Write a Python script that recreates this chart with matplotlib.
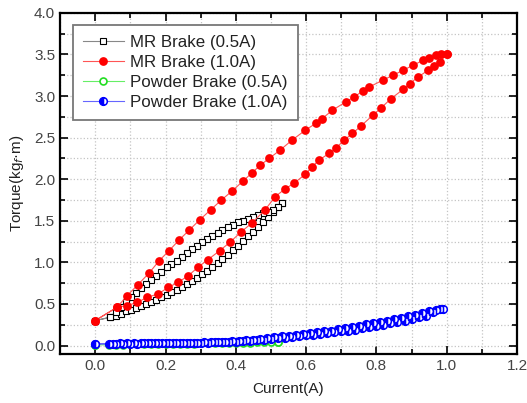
import matplotlib
matplotlib.use("Agg")
import matplotlib.pyplot as plt
from matplotlib.ticker import MultipleLocator

plt.rcParams["font.family"] = ["Liberation Sans", "DejaVu Sans"]

# MR brake, 0.5 A (increasing then decreasing current)
mr05_up_i = [0.0, 0.043, 0.058, 0.072, 0.087, 0.101, 0.116, 0.130, 0.145, 0.159, 0.174,
             0.188, 0.203, 0.217, 0.232, 0.246, 0.261, 0.275, 0.290, 0.304, 0.319, 0.333,
             0.348, 0.362, 0.377, 0.391, 0.406, 0.420, 0.435, 0.449, 0.464, 0.478, 0.493,
             0.507, 0.520, 0.531]
mr05_up_t = [0.30, 0.34, 0.36, 0.38, 0.41, 0.43, 0.45, 0.47, 0.50, 0.52, 0.55,
             0.58, 0.61, 0.64, 0.67, 0.70, 0.74, 0.77, 0.81, 0.86, 0.90, 0.95,
             0.99, 1.04, 1.09, 1.15, 1.20, 1.26, 1.32, 1.37, 1.43, 1.49, 1.55,
             1.61, 1.66, 1.71]
mr05_dn_i = [0.531, 0.520, 0.507, 0.493, 0.478, 0.464, 0.449, 0.435, 0.420, 0.406, 0.391,
             0.377, 0.362, 0.348, 0.333, 0.319, 0.304, 0.290, 0.275, 0.261, 0.246, 0.232,
             0.217, 0.203, 0.188, 0.174, 0.159, 0.145, 0.130, 0.116, 0.101, 0.087, 0.072,
             0.058, 0.043, 0.0]
mr05_dn_t = [1.71, 1.66, 1.63, 1.61, 1.59, 1.57, 1.55, 1.52, 1.50, 1.48, 1.45,
             1.42, 1.39, 1.35, 1.32, 1.28, 1.24, 1.20, 1.16, 1.11, 1.06, 1.02,
             0.98, 0.94, 0.89, 0.84, 0.79, 0.74, 0.69, 0.63, 0.58, 0.52, 0.46,
             0.40, 0.34, 0.30]

# MR brake, 1.0 A
mr10_up_i = [0.0, 0.062, 0.091, 0.12, 0.148, 0.179, 0.208, 0.236, 0.265, 0.292, 0.32,
             0.354, 0.383, 0.416, 0.445, 0.483, 0.512, 0.539, 0.565, 0.598, 0.617, 0.637,
             0.665, 0.684, 0.708, 0.732, 0.756, 0.79, 0.814, 0.842, 0.876, 0.895, 0.919,
             0.947, 0.965, 0.981, 1.0]
mr10_up_t = [0.30, 0.46, 0.48, 0.52, 0.58, 0.62, 0.70, 0.76, 0.84, 0.94, 1.03,
             1.14, 1.24, 1.37, 1.47, 1.63, 1.79, 1.88, 1.95, 2.06, 2.15, 2.23,
             2.31, 2.37, 2.47, 2.55, 2.64, 2.77, 2.86, 2.97, 3.08, 3.15, 3.23,
             3.31, 3.36, 3.41, 3.51]
mr10_dn_i = [1.0, 0.985, 0.97, 0.95, 0.933, 0.904, 0.876, 0.847, 0.818, 0.78, 0.761, 0.737,
             0.713, 0.675, 0.646, 0.627, 0.598, 0.56, 0.526, 0.495, 0.47, 0.447, 0.421,
             0.39, 0.359, 0.328, 0.297, 0.268, 0.239, 0.21, 0.182, 0.153, 0.121, 0.091,
             0.062, 0.0]
mr10_dn_t = [3.51, 3.50, 3.49, 3.46, 3.43, 3.37, 3.31, 3.25, 3.19, 3.11, 3.06, 2.99,
             2.93, 2.83, 2.73, 2.67, 2.59, 2.47, 2.35, 2.25, 2.17, 2.08, 1.98,
             1.86, 1.75, 1.63, 1.51, 1.39, 1.27, 1.14, 1.02, 0.87, 0.73, 0.60,
             0.46, 0.30]

# powder brake, 0.5 A
pw05_up_i = [0.0, 0.04, 0.08, 0.12, 0.16, 0.20, 0.24, 0.28, 0.32, 0.36, 0.40, 0.44, 0.48, 0.52]
pw05_up_t = [0.01, 0.01, 0.012, 0.014, 0.016, 0.018, 0.02, 0.022, 0.025, 0.028, 0.031, 0.035, 0.04, 0.045]
pw05_dn_i = [0.52, 0.50, 0.46, 0.42, 0.38, 0.34, 0.30, 0.26, 0.22, 0.18, 0.14, 0.10, 0.06, 0.0]
pw05_dn_t = [0.045, 0.044, 0.04, 0.036, 0.032, 0.029, 0.026, 0.023, 0.021, 0.018, 0.016, 0.014, 0.012, 0.01]

# powder brake, 1.0 A
pw10_up_i = [0.0, 0.04, 0.06, 0.08, 0.10, 0.12, 0.14, 0.16, 0.18, 0.20, 0.22, 0.24, 0.26,
             0.28, 0.30, 0.32, 0.34, 0.36, 0.38, 0.40, 0.42, 0.44, 0.46, 0.48, 0.50, 0.52,
             0.54, 0.56, 0.58, 0.60, 0.62, 0.64, 0.66, 0.68, 0.70, 0.72, 0.74, 0.76, 0.78,
             0.80, 0.82, 0.84, 0.86, 0.88, 0.90, 0.92, 0.94, 0.96, 0.98]
pw10_up_t = [0.02, 0.02, 0.02, 0.02, 0.022, 0.024, 0.025, 0.026, 0.027, 0.028, 0.029, 0.03,
             0.031, 0.032, 0.034, 0.036, 0.038, 0.04, 0.043, 0.047, 0.051, 0.056, 0.062,
             0.07, 0.078, 0.086, 0.095, 0.104, 0.113, 0.122, 0.131, 0.14, 0.15, 0.16, 0.17,
             0.18, 0.19, 0.205, 0.22, 0.235, 0.25, 0.265, 0.28, 0.30, 0.32, 0.34, 0.36,
             0.40, 0.44]
pw10_dn_i = [0.99, 0.97, 0.95, 0.93, 0.91, 0.89, 0.87, 0.85, 0.83, 0.81, 0.79, 0.77, 0.75,
             0.73, 0.71, 0.69, 0.67, 0.65, 0.63, 0.61, 0.59, 0.57, 0.55, 0.53, 0.51, 0.49,
             0.47, 0.45, 0.43, 0.41, 0.39, 0.37, 0.35, 0.33, 0.31, 0.29, 0.27, 0.25, 0.23,
             0.21, 0.19, 0.17, 0.15, 0.13, 0.11, 0.09, 0.07, 0.05, 0.0]
pw10_dn_t = [0.44, 0.43, 0.41, 0.39, 0.37, 0.35, 0.33, 0.315, 0.30, 0.285, 0.27, 0.255,
             0.24, 0.225, 0.21, 0.195, 0.18, 0.17, 0.16, 0.15, 0.14, 0.13, 0.12, 0.11,
             0.10, 0.09, 0.08, 0.072, 0.065, 0.058, 0.052, 0.047, 0.043, 0.04, 0.037,
             0.035, 0.033, 0.032, 0.031, 0.03, 0.03, 0.029, 0.028, 0.027, 0.026, 0.025,
             0.025, 0.024, 0.02]

fig = plt.figure(figsize=(5.27, 4.03), dpi=100)
ax = fig.add_axes([0.114, 0.122, 0.867, 0.846])

ax.grid(True, which="both", color="#c4c4c4", linestyle=":", linewidth=0.9)
ax.set_axisbelow(True)

ax.plot(pw05_up_i + pw05_dn_i, pw05_up_t + pw05_dn_t, linestyle="-", linewidth=0.8,
        color="#66ee66", marker="o", markersize=5, markerfacecolor="white",
        markeredgecolor="#22dd22", markeredgewidth=1.2, label="Powder Brake (0.5A)")
ax.plot(pw10_up_i + pw10_dn_i, pw10_up_t + pw10_dn_t, linestyle="-", linewidth=0.8,
        color="#6666ff", marker="o", markersize=5.5, fillstyle="left",
        markerfacecolor="blue", markerfacecoloralt="white", markeredgecolor="blue",
        markeredgewidth=1.1, label="Powder Brake (1.0A)")
ax.plot(mr05_up_i + mr05_dn_i, mr05_up_t + mr05_dn_t, linestyle="-", linewidth=0.8,
        color="#888888", marker="s", markersize=5, markerfacecolor="white",
        markeredgecolor="black", markeredgewidth=0.8, label="MR Brake (0.5A)")
ax.plot(mr10_up_i + mr10_dn_i, mr10_up_t + mr10_dn_t, linestyle="-", linewidth=0.8,
        color="#ff5555", marker="o", markersize=6.3, markerfacecolor="red",
        markeredgecolor="red", markeredgewidth=0, label="MR Brake (1.0A)")

ax.set_xlim(-0.1, 1.2)
ax.set_ylim(-0.1, 4.0)
ax.xaxis.set_major_locator(MultipleLocator(0.2))
ax.xaxis.set_minor_locator(MultipleLocator(0.1))
ax.yaxis.set_major_locator(MultipleLocator(0.5))
ax.yaxis.set_minor_locator(MultipleLocator(0.25))
ax.tick_params(which="both", direction="in", top=True, right=True,
               labelcolor="#444444", labelsize=11, width=1.2)
ax.tick_params(which="major", length=6)
ax.tick_params(which="minor", length=3.5)
for s in ax.spines.values():
    s.set_linewidth(1.6)

ax.set_xlabel("Current(A)", fontsize=11, color="#222222", labelpad=7)
ax.set_ylabel("Torque(kg$_f$·m)", fontsize=11, color="#222222", labelpad=6)

handles, labels = ax.get_legend_handles_labels()
order = [2, 3, 0, 1]
leg = ax.legend([handles[k] for k in order], [labels[k] for k in order],
                loc="upper left", bbox_to_anchor=(0.028, 0.965), borderaxespad=0,
                fontsize=12.2, numpoints=1, handlelength=2.4, handletextpad=0.4,
                fancybox=False, framealpha=1, edgecolor="#777777", borderpad=0.6,
                labelspacing=0.3)
leg.get_frame().set_linewidth(1.3)
for t in leg.get_texts():
    t.set_color("#222222")

fig.savefig("out.png", dpi=100)
